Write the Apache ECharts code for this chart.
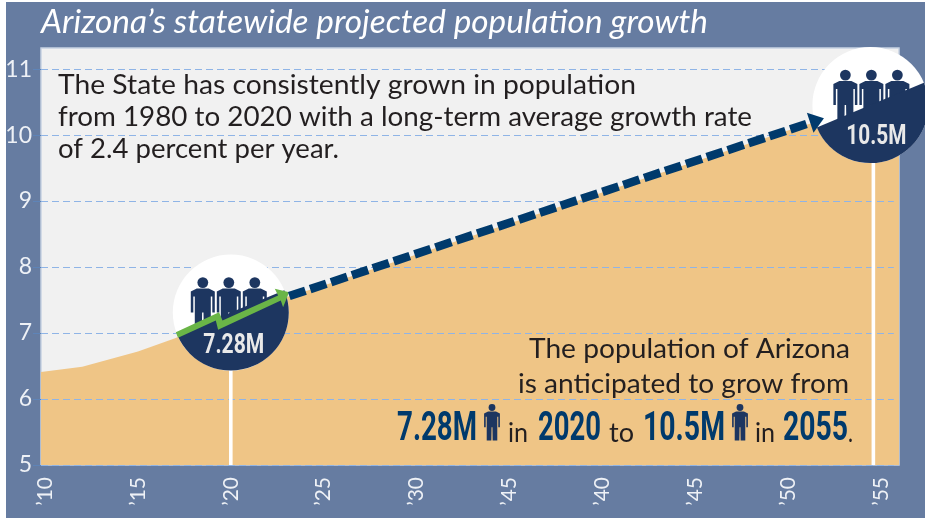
<!DOCTYPE html>
<html><head><meta charset="utf-8">
<style>
html,body{margin:0;padding:0;background:#fff;width:925px;height:518px;overflow:hidden}
#bg{position:absolute;left:6px;top:2px;width:919px;height:516px;background:#667ca1}
#c{position:absolute;left:0;top:0;width:925px;height:518px}
</style>
<script src="https://cdn.jsdelivr.net/npm/echarts@6/dist/echarts.min.js"></script>
</head><body><div id="bg"></div><div id="c"></div>
<script>
const titleText = "Arizona\u2019s statewide projected population growth";
const introLines = ["The State has consistently grown in population","from 1980 to 2020 with a long-term average growth rate","of 2.4 percent per year."];
const xTickYears = [2010,2015,2020,2025,2030,2035,2040,2045,2050,2055];
const xTickLabels = ["\u201910","\u201915","\u201920","\u201925","\u201930","\u201945","\u201940","\u201945","\u201950","\u201955"];
const yTicks = [5,6,7,8,9,10,11];
const areaYears = [2009.78,2012,2015,2017,2020,2025,2030,2035,2040,2045,2050,2055,2055.98];
const areaValues = [6.41,6.49,6.72,6.92,7.28,7.72,8.19,8.66,9.13,9.60,10.07,10.5,10.6];
const projYears = [2023.15,2051.3];
const projValues = [7.56,10.197];
const calloutYears = [2020,2054.6];
const calloutValues = [7.28,10.5];
const calloutLabels = ["7.28M","10.5M"];

const NAVY="#1d3660", DASH="#003a6c", GREEN="#6ab547", BODY="Lato", BOLD="Roboto";
const mctx=document.createElement('canvas').getContext('2d');
function fitScale(text,font,w){mctx.font=font;return w/mctx.measureText(text).width;}
const PERSON=[[-6,6],[6,6],[12,9],[12,30],[9.5,30],[9.5,14],[8,14],[8,50],[1,50],[0.7,30],[-0.7,30],[-1,50],[-8,50],[-8,14],[-9.5,14],[-9.5,30],[-12,30],[-12,9]];
const GREEN_ARROW=[[-55,19.7],[-11.7,-0.3],[-8.3,8],[47.3,-17],[44,-23.7],[58.3,-20.3],[52.3,-5.3],[50,-12],[-12.7,17.3],[-15,8],[-52.7,25.3]];
function personEls(cx,hy,s,hr){
  s=s||1;
  return [
    {type:'circle',shape:{cx:cx,cy:hy,r:(hr||5.4)},style:{fill:NAVY}},
    {type:'polygon',shape:{points:PERSON.map(p=>[cx+p[0]*s,hy+p[1]*s])},style:{fill:NAVY}}
  ];
}
const CALL=[{dx:0,dy:-2,px:-2,tx:3,ty:33,w:61,arrow:true},{dx:-3,dy:3,px:1,tx:6,ty:32,w:60,arrow:false}];
function renderCallout(params,api){
  const i=params.dataIndex, o=CALL[i];
  const p=api.coord([api.value(0),api.value(1)]);
  const base=api.coord([api.value(0),5]);
  const cx=p[0]+o.dx, cy=p[1]+o.dy, r=58, a=22.6*Math.PI/180;
  const f="bold 28px "+BOLD, sx=fitScale(calloutLabels[i],f,o.w);
  const kids=[
    {type:'rect',shape:{x:p[0]-1.8,y:cy,width:3.6,height:base[1]-cy},style:{fill:'#fff'}},
    {type:'circle',shape:{cx:cx,cy:cy,r:r},style:{fill:'#fff'}},
    ...[-26,0,26].flatMap(d=>personEls(cx+o.px+d,cy-30)),
    {type:'sector',shape:{cx:cx,cy:cy,r0:0,r:r,startAngle:-a,endAngle:Math.PI-a,clockwise:true},style:{fill:NAVY}},
    {type:'text',x:cx+o.tx,y:cy+o.ty,scaleX:sx,style:{text:calloutLabels[i],x:0,y:0,align:'center',verticalAlign:'middle',fill:'#e9e9e9',font:f}}
  ];
  if(o.arrow) kids.push({type:'polygon',shape:{points:GREEN_ARROW.map(q=>[cx+q[0],cy+q[1]])},style:{fill:GREEN}});
  return {type:'group',children:kids};
}
function renderHead(params,api){
  if(params.dataIndex!==1) return;
  const a=api.coord([projYears[0],projValues[0]]), b=api.coord([projYears[1],projValues[1]]);
  const t=Math.atan2(b[1]-a[1],b[0]-a[0]), ux=Math.cos(t), uy=Math.sin(t);
  const F=12.5,H=10.5,B=2;
  return {type:'polygon',shape:{points:[
    [b[0]+ux*F,b[1]+uy*F],
    [b[0]-ux*B-uy*H,b[1]-uy*B+ux*H],
    [b[0]-ux*B+uy*H,b[1]-uy*B-ux*H]]},style:{fill:DASH}};
}
function renderGridLine(params,api){
  const a=api.coord([2009.78,api.value(0)]), b=api.coord([2055.7,api.value(0)]);
  return {type:'line',shape:{x1:a[0],y1:Math.round(a[1])+0.5,x2:b[0],y2:Math.round(b[1])+0.5},
    style:{stroke:'#8fb4e6',lineWidth:1,lineDash:[7,4]}};
}
const txt=(text,x,y,w,font,fill)=>({type:'text',z:20,x:x,y:y,scaleX:fitScale(text,font,w),originX:0,originY:0,
  style:{text,x:0,y:0,font,fill,textAlign:'left',textVerticalAlign:'middle'}});
const bigF="bold 41px "+BOLD, smF="27px "+BODY, INK="#231f20";
const introW=[578,694,281];
const graphics=[
  txt(titleText,41,23,667,"italic 32px "+BODY,"#fff"),
  ...introLines.map((l,i)=>txt(l,58,85+i*32,introW[i],smF,INK)),
  txt("The population of Arizona",529,349,321,smF,INK),
  txt("is anticipated to grow from",518,384,331,smF,INK),
  txt("7.28M",397,430,80,bigF,DASH),
  txt("in",508,433,20,smF,INK),
  txt("2020",538,430,63,bigF,DASH),
  txt("to",609,433,25,smF,INK),
  txt("10.5M",643,430,82,bigF,DASH),
  txt("in",755,433,20,smF,INK),
  txt("2055",783,430,65,bigF,DASH),
  txt(".",848,433,5,smF,INK)
];
[492,740].forEach(x=>{
  personEls(x,407.5,0.66,3.4).forEach(e=>{
    e.z=20; graphics.push(e);
  });
});
const chart=echarts.init(document.getElementById('c'),null,{renderer:'canvas'});
chart.setOption({
  animation:false,
  grid:{left:41,top:48,right:26,bottom:53,show:true,backgroundColor:'#f1f1f1',borderColor:'#c8d2e2',borderWidth:1.5},
  xAxis:{type:'value',min:2009.78,max:2055.98,
    axisLine:{show:false},axisTick:{show:false},splitLine:{show:false},
    axisLabel:{customValues:xTickYears,rotate:90,margin:12,color:'#eef1f6',fontSize:21,fontFamily:'Lato',
      formatter:v=>xTickLabels[xTickYears.indexOf(v)]}},
  yAxis:{type:'value',min:5,max:11.32,
    axisLine:{show:false},
    axisTick:{show:true,customValues:yTicks,length:8,lineStyle:{color:'#5e84b8',width:1}},
    splitLine:{show:false},
    axisLabel:{customValues:yTicks,margin:9,color:'#eef1f6',fontSize:23,fontFamily:'Lato',formatter:v=>String(v)}},
  graphic:graphics,
  series:[
    {type:'line',z:2,symbol:'none',silent:true,data:areaYears.map((y,i)=>[y,areaValues[i]]),lineStyle:{width:0},areaStyle:{color:'#efc586',opacity:1}},
    {type:'custom',z:3,silent:true,clip:false,renderItem:renderGridLine,data:yTicks.map(v=>[v]),encode:{y:0}},
    {type:'custom',z:5,silent:true,clip:false,renderItem:renderCallout,data:calloutYears.map((y,i)=>[y,calloutValues[i]])},
    {type:'line',z:6,symbol:'none',silent:true,data:projYears.map((y,i)=>[y,projValues[i]]),lineStyle:{color:DASH,width:8.5,type:[17,5],cap:'butt'}},
    {type:'custom',z:7,silent:true,clip:false,renderItem:renderHead,data:projYears.map((y,i)=>[y,projValues[i]])}
  ]
});
</script></body></html>
